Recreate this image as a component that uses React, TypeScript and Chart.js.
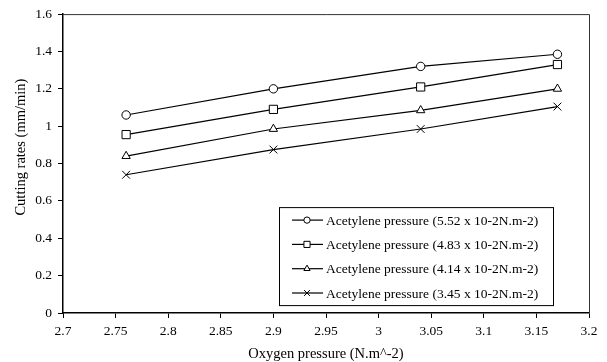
import React, { useEffect, useRef } from "react";
import { Chart, registerables } from "chart.js";
import { drawPoint } from "chart.js/helpers";

Chart.register(...registerables);

const oxygenPressure = [2.76, 2.9, 3.04, 3.17];
const series552 = [1.06, 1.2, 1.32, 1.385];
const series483 = [0.955, 1.09, 1.21, 1.33];
const series414 = [0.84, 0.985, 1.085, 1.2];
const series345 = [0.74, 0.875, 0.985, 1.105];
const seriesLabels = [
  "Acetylene pressure (5.52 x 10-2N.m-2)",
  "Acetylene pressure (4.83 x 10-2N.m-2)",
  "Acetylene pressure (4.14 x 10-2N.m-2)",
  "Acetylene pressure (3.45 x 10-2N.m-2)",
];
const xTitle = "Oxygen pressure (N.m^-2)";
const yTitle = "Cutting rates (mm/min)";

const FONT = "'Liberation Serif', 'Times New Roman', serif";

function fmt(v: number) {
  return String(Number(Number(v).toFixed(2)));
}

export default function App() {
  const ref = useRef<HTMLCanvasElement | null>(null);

  useEffect(() => {
    document.body.style.margin = "0";
    const canvas = ref.current!;
    const styles = [
      { style: "circle", r: 4.2 },
      { style: "rect", r: 5.8 },
      { style: "triangle", r: 4.8 },
      { style: "crossRot", r: 5.5 },
    ];
    const allSeries = [series552, series483, series414, series345];

    const datasets = allSeries.map((s, i) => ({
      label: seriesLabels[i],
      data: oxygenPressure.map((x, j) => ({ x, y: s[j] })),
      borderColor: "#000",
      borderWidth: 1.2,
      pointStyle: styles[i].style as any,
      pointRadius: styles[i].r,
      pointBackgroundColor: "#fff",
      pointBorderColor: "#000",
      pointBorderWidth: 1,
      fill: false,
      tension: 0,
    }));

    const framePlugin = {
      id: "frameAndLegend",
      afterDraw(chart: any) {
        const ctx = chart.ctx as CanvasRenderingContext2D;
        const ca = chart.chartArea;
        ctx.save();
        // frame (top/right)
        ctx.strokeStyle = "#333";
        ctx.lineWidth = 1;
        ctx.beginPath();
        ctx.moveTo(ca.left, ca.top + 0.5);
        ctx.lineTo(ca.right + 0.5, ca.top + 0.5);
        ctx.lineTo(ca.right + 0.5, ca.bottom);
        ctx.stroke();

        // legend box
        const bx = ca.right - 310;
        const by = ca.top + 193;
        const bw = 274;
        const bh = 98;
        ctx.fillStyle = "#fff";
        ctx.fillRect(bx, by, bw, bh);
        ctx.strokeStyle = "#000";
        ctx.strokeRect(bx + 0.5, by + 0.5, bw, bh);
        ctx.font = `13.5px ${FONT}`;
        ctx.textBaseline = "middle";
        ctx.textAlign = "left";
        chart.data.datasets.forEach((ds: any, i: number) => {
          const y = by + 13 + i * 24.3;
          ctx.beginPath();
          ctx.strokeStyle = "#000";
          ctx.lineWidth = 1.2;
          ctx.moveTo(bx + 13, y);
          ctx.lineTo(bx + 44, y);
          ctx.stroke();
          ctx.fillStyle = "#fff";
          ctx.strokeStyle = "#000";
          ctx.lineWidth = 1;
          drawPoint(ctx, { pointStyle: ds.pointStyle, radius: ds.pointRadius * 0.75, borderWidth: 1, rotation: 0 } as any, bx + 28, y);
          ctx.fillStyle = "#000";
          ctx.fillText(ds.label, bx + 47, y + 1);
        });

        // axis titles
        ctx.fillStyle = "#000";
        ctx.font = `14.5px ${FONT}`;
        ctx.textAlign = "center";
        ctx.textBaseline = "middle";
        ctx.fillText(xTitle, (ca.left + ca.right) / 2, chart.height - 8);
        ctx.translate(21, ca.top + 133);
        ctx.rotate(-Math.PI / 2);
        ctx.fillText(yTitle, 0, 0);
        ctx.restore();
      },
    };

    const chart = new Chart(canvas, {
      type: "line",
      data: { datasets },
      options: {
        animation: false,
        responsive: false,
        layout: { padding: { left: 0, top: 13, right: 18, bottom: 0 } },
        plugins: { legend: { display: false }, tooltip: { enabled: false } },
        scales: {
          x: {
            type: "linear",
            min: 2.7,
            max: 3.2,
            ticks: {
              stepSize: 0.05,
              color: "#000",
              font: { family: FONT, size: 13.5 },
              padding: 5,
              maxRotation: 0,
              callback: (v: any) => fmt(v),
            },
            grid: { display: true, drawOnChartArea: false, drawTicks: true, tickLength: 5, color: "#000" },
            border: { display: true, color: "#000", width: 1.5 },
            afterFit: (s: any) => {
              s.height = 49;
            },
          },
          y: {
            min: 0,
            max: 1.6,
            ticks: {
              stepSize: 0.2,
              color: "#000",
              font: { family: FONT, size: 13.5 },
              padding: 6,
              callback: (v: any) => fmt(v),
            },
            grid: { display: true, drawOnChartArea: false, drawTicks: true, tickLength: 5, color: "#000" },
            border: { display: true, color: "#000", width: 1.5 },
            afterFit: (s: any) => {
              s.width = 63;
            },
          },
        },
      },
      plugins: [framePlugin],
    });
    return () => chart.destroy();
  }, []);

  return (
    <div style={{ width: 607, height: 362, background: "#fff" }}>
      <canvas ref={ref} width={607} height={362} />
    </div>
  );
}
